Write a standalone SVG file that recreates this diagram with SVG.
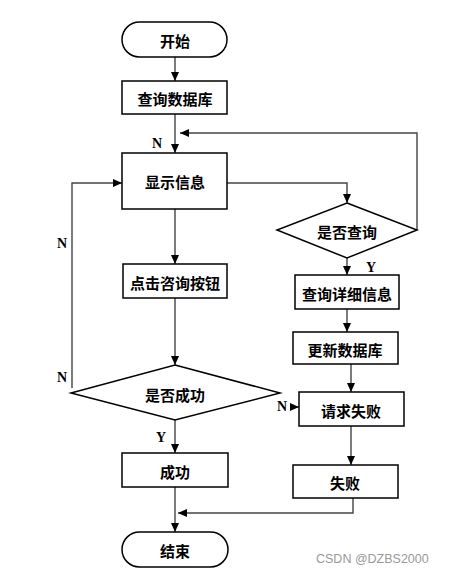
<svg xmlns="http://www.w3.org/2000/svg" width="449" height="573" viewBox="0 0 449 573">
<defs>
<marker id="ah" markerWidth="10" markerHeight="10" refX="9" refY="5" orient="auto" markerUnits="userSpaceOnUse">
<path d="M0,1 L9,5 L0,9 Z" fill="#000"/>
</marker>
<style>
.box{fill:#fff;stroke:#000;stroke-width:1.5}
.t{font-family:"Noto Sans CJK SC","Noto Sans CJK JP",sans-serif;font-size:15px;font-weight:bold;fill:#000;text-anchor:middle;dominant-baseline:central}
.lbl{font-family:"Liberation Serif",serif;font-size:14px;font-weight:bold;fill:#000}
.c{fill:none;stroke:#444;stroke-width:1.4}
.ca{fill:none;stroke:#444;stroke-width:1.4;marker-end:url(#ah)}
.wm{font-family:"Liberation Sans",sans-serif;font-size:12.5px;fill:#999}
</style>
</defs>
<rect width="449" height="573" fill="#fff"/>
<g id="connectors">
<path class="ca" d="M175,57 V81"/>
<path class="ca" d="M175,114 V153"/>
<path class="ca" d="M417,230 V133 H180"/>
<path class="ca" d="M227,183 H347 V203"/>
<path class="ca" d="M72,388 V183 H122"/>
<path class="ca" d="M175,209 V264"/>
<path class="ca" d="M175,298 V365"/>
<path class="ca" d="M347,258 V275"/>
<path class="ca" d="M347,309 V332"/>
<path class="ca" d="M351,364 V392"/>
<path class="ca" d="M351,426 V465"/>
<path class="ca" d="M291,407 H299"/>
<path class="ca" d="M175,420 V453"/>
<path class="ca" d="M175,487 V532"/>
<path class="ca" d="M353,498 V513 H178"/>
</g>
<g id="start"><rect class="box" x="122" y="22" width="105" height="35" rx="17.5"/><text class="t" x="175" y="40">开始</text></g>
<g id="querydb"><rect class="box" x="122" y="81" width="105" height="33"/><text class="t" x="175" y="98">查询数据库</text></g>
<g id="show"><rect class="box" x="122" y="153" width="105" height="56"/><text class="t" x="175" y="181">显示信息</text></g>
<g id="isquery"><polygon class="box" points="347,203 417,230 347,258 277,230"/><text class="t" x="347" y="231">是否查询</text></g>
<g id="detail"><rect class="box" x="295" y="275" width="104" height="34"/><text class="t" x="347" y="293">查询详细信息</text></g>
<g id="update"><rect class="box" x="293" y="332" width="105" height="32"/><text class="t" x="345" y="349">更新数据库</text></g>
<g id="reqfail"><rect class="box" x="299" y="392" width="105" height="34"/><text class="t" x="351" y="410">请求失败</text></g>
<g id="fail"><rect class="box" x="293" y="465" width="105" height="33"/><text class="t" x="345" y="482">失败</text></g>
<g id="click"><rect class="box" x="123" y="264" width="104" height="34"/><text class="t" x="175" y="282">点击咨询按钮</text></g>
<g id="issuccess"><polygon class="box" points="175,365 280,393 175,420 71,393"/><text class="t" x="175" y="394">是否成功</text></g>
<g id="success"><rect class="box" x="122" y="453" width="106" height="34"/><text class="t" x="175" y="471">成功</text></g>
<g id="end"><rect class="box" x="122" y="532" width="106" height="35" rx="17.5"/><text class="t" x="175" y="550">结束</text></g>
<g id="labels">
<text class="lbl" x="152" y="148">N</text>
<text class="lbl" x="57" y="248">N</text>
<text class="lbl" x="57" y="382">N</text>
<text class="lbl" x="277" y="411">N</text>
<text class="lbl" x="366" y="272">Y</text>
<text class="lbl" x="156" y="442">Y</text>
</g>
<text class="wm" x="316" y="563">CSDN @DZBS2000</text>
</svg>
